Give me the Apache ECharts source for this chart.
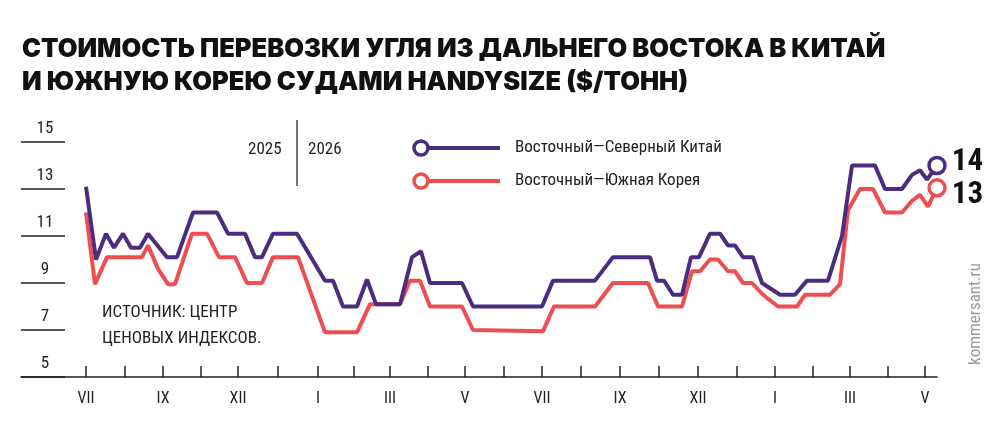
<!DOCTYPE html>
<html><head><meta charset="utf-8">
<script src="https://cdn.jsdelivr.net/npm/echarts@6/dist/echarts.min.js"></script>
<style>html,body{margin:0;padding:0;background:#fff}#c{width:1000px;height:443px}</style>
</head><body><div id="c"></div>
<script>
// time position (relative units) and values, $/t
const northChina = [[0,13.1],[10,10.0],[20,11.1],[28,10.5],[37,11.1],[45,10.5],[54,10.5],[62,11.1],[81,10.1],[91,10.1],[107,12.0],[131,12.0],[142,11.1],[159,11.1],[169,10.1],[176,10.1],[187,11.1],[211,11.1],[239,9.1],[247,9.1],[257,8.0],[271,8.0],[281,9.15],[290,8.1],[314,8.1],[326,10.1],[335,10.35],[344,9.0],[376,9.0],[387,8.0],[456,8.0],[467,9.1],[509,9.1],[527,10.1],[564,10.1],[571,9.1],[578,9.1],[587,8.5],[596,8.5],[605,10.1],[613,10.1],[624,11.1],[634,11.1],[642,10.6],[649,10.6],[657,10.1],[667,10.1],[676,9.0],[694,8.5],[709,8.5],[721,9.1],[742,9.1],[756,11.0],[766,14.0],[789,14.0],[799,13.0],[816,13.0],[826,13.6],[834,13.8],[841,13.4],[851,14.0]];
const southKorea = [[0,12.0],[9,8.95],[21,10.1],[56,10.1],[62,10.6],[72,9.6],[82,8.95],[89,8.95],[106,11.1],[121,11.1],[133,10.1],[149,10.1],[161,9.0],[176,9.0],[187,10.1],[212,10.1],[239,6.9],[271,6.9],[284,8.1],[314,8.1],[324,9.1],[334,9.1],[344,8.0],[376,8.0],[387,7.0],[457,6.95],[468,8.0],[509,8.0],[527,9.0],[562,9.0],[572,8.0],[596,8.0],[606,9.5],[614,9.5],[624,10.0],[632,10.0],[642,9.5],[649,9.5],[657,9.0],[666,9.0],[677,8.5],[692,8.0],[711,8.0],[719,8.5],[744,8.5],[754,8.95],[762,12.1],[774,13.0],[787,13.0],[799,12.0],[816,12.0],[826,12.5],[834,12.75],[842,12.25],[851,13.05]];
const monthPos = [0,77,152,232,304,379,456,534,612,689,764,839];
const monthLabels = ['VII','IX','XII','I','III','V','VII','IX','XII','I','III','V'];
const yTicks = [5,7,9,11,13,15];
const names = ['Восточный—Северный Китай','Восточный—Южная Корея'];
const colors = ['#4b2c80','#ee4e50'];
const endLabels = ['14','13'];

const NARROW = '"Liberation Sans Narrow","Roboto Condensed","DejaVu Sans Condensed",sans-serif';
const tickPos = [];
monthPos.forEach((p,i)=>{tickPos.push(p); if(i<monthPos.length-1) tickPos.push((p+monthPos[i+1])/2);});

function mk(data, i){
  const d = data.map((p,k)=> k===data.length-1 ? {value:p, symbol:'circle', symbolSize:16,
    itemStyle:{color:'#fff',borderColor:colors[i],borderWidth:3.5},
    label:{show:true,position:'right',distance:5,offset:[0,i===0?-3:7],formatter:endLabels[i],color:'#111',fontSize:31,fontWeight:'bold',fontFamily:NARROW}} : p);
  return {type:'line',name:names[i],data:d,symbol:'none',showSymbol:true,lineStyle:{color:colors[i],width:4},itemStyle:{color:colors[i]},z:i===0?3:2,animation:false};
}
const chart = echarts.init(document.getElementById('c'));
chart.setOption({
  animation:false,
  grid:{left:21,right:63,top:142,bottom:66},
  xAxis:{type:'value',min:-65,max:851,
    axisLine:{show:true,lineStyle:{color:'#222',width:1.5}},
    axisTick:{show:true,inside:true,length:11,customValues:tickPos,lineStyle:{color:'#222',width:1.5}},
    axisLabel:{customValues:monthPos,formatter:v=>monthLabels[monthPos.indexOf(v)]||'',margin:14,fontSize:16,color:'#222',fontFamily:NARROW},
    splitLine:{show:false}},
  yAxis:{type:'value',min:5,max:15,
    axisLine:{show:false,onZero:false},
    axisTick:{show:true,inside:true,length:44,customValues:yTicks,lineStyle:{color:'#222',width:1.5}},
    axisLabel:{customValues:yTicks,inside:true,margin:24,align:'center',verticalAlign:'bottom',padding:[0,0,5,0],fontSize:17,color:'#222',fontFamily:NARROW},
    splitLine:{show:false}},
  series:[mk(northChina,0),mk(southKorea,1)],
  graphic:[
    {type:'text',left:22,top:33,style:{text:'СТОИМОСТЬ ПЕРЕВОЗКИ УГЛЯ ИЗ ДАЛЬНЕГО ВОСТОКА В КИТАЙ\nИ ЮЖНУЮ КОРЕЮ СУДАМИ HANDYSIZE ($/ТОНН)',fill:'#111',font:'900 25.5px Inter, sans-serif',lineHeight:33}},
    {type:'text',left:248,top:141,style:{text:'2025',fill:'#222',font:'17px '+NARROW}},
    {type:'text',left:308,top:141,style:{text:'2026',fill:'#222',font:'17px '+NARROW}},
    {type:'line',shape:{x1:297,y1:120,x2:297,y2:186},style:{stroke:'#444',lineWidth:1.5}},
    {type:'line',shape:{x1:428,y1:148,x2:500,y2:148},style:{stroke:colors[0],lineWidth:4}},
    {type:'circle',shape:{cx:421,cy:148,r:7},style:{fill:'#fff',stroke:colors[0],lineWidth:3.5}},
    {type:'text',left:515,top:139,style:{text:names[0],fill:'#222',font:'17px '+NARROW}},
    {type:'line',shape:{x1:428,y1:181,x2:500,y2:181},style:{stroke:colors[1],lineWidth:4}},
    {type:'circle',shape:{cx:421,cy:181,r:7},style:{fill:'#fff',stroke:colors[1],lineWidth:3.5}},
    {type:'text',left:515,top:172,style:{text:names[1],fill:'#222',font:'17px '+NARROW}},
    {type:'text',left:102,top:300,style:{text:'ИСТОЧНИК: ЦЕНТР\nЦЕНОВЫХ ИНДЕКСОВ.',fill:'#222',font:'17px '+NARROW,lineHeight:26}},
    {type:'text',x:976,y:365,rotation:Math.PI/2,style:{text:'kommersant.ru',fill:'#999',font:'17px '+NARROW,align:'left',verticalAlign:'middle'}}
  ]
});
</script></body></html>
